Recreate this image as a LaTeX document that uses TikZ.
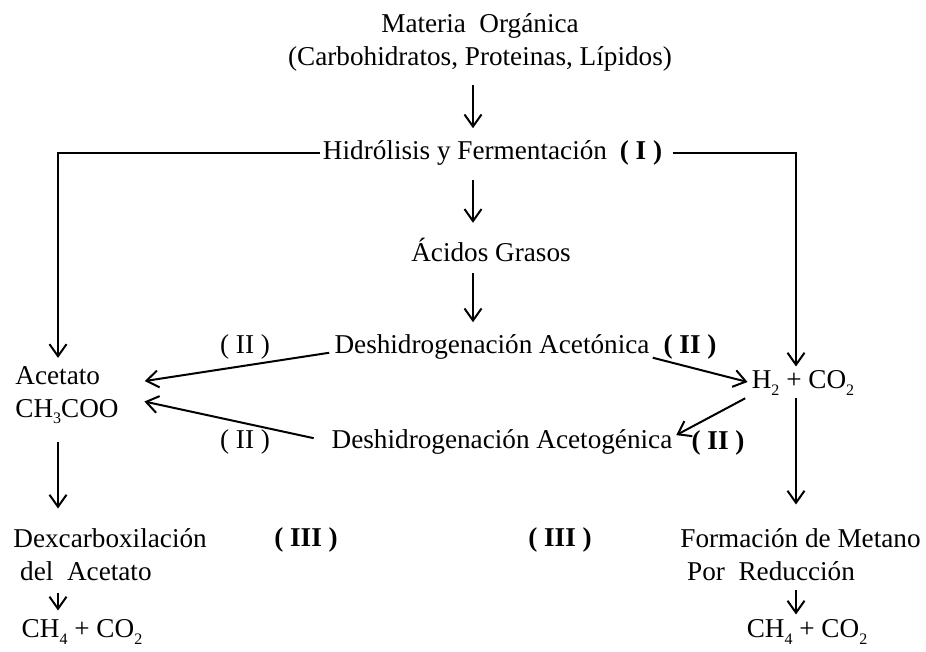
\documentclass[tikz,border=0pt]{standalone}
\usepackage{fontspec}
\setmainfont{Liberation Serif}
\usetikzlibrary{arrows.meta}
\newcommand{\indice}[1]{\raisebox{-0.5ex}{\fontsize{8}{8}\selectfont #1}}
\begin{document}
\begin{tikzpicture}[x=0.5pt,y=-0.5pt,
    every node/.style={font=\fontsize{13.6}{16.5}\selectfont, inner sep=0pt},
    etapa/.style={font=\fontsize{13.6}{16.5}\selectfont\bfseries},
    flecha/.style={-{Straight Barb[length=6pt,width=8.5pt]}, line width=1pt}]
  \useasboundingbox (0,0) rectangle (926,652);
  % columnas de las flechas verticales
  \coordinate (eje) at (473,0);
  \coordinate (colizq) at (58,0);
  \coordinate (colder) at (796,0);
  % textos
  \node (materia) [align=center] at (480,42) {Materia\ \ Orgánica\\(Carbohidratos, Proteinas, Lípidos)};
  \node (hidro) at (465,153) {Hidrólisis y Fermentación};
  \node (etapa1) [etapa] at (641,153) {( I )};
  \node (acidos) at (491,250) {Ácidos Grasos};
  \node (acetonica) at (492,347) {Deshidrogenación Acetónica};
  \node (acetogenica) at (502,442) {Deshidrogenación Acetogénica};
  \node (etapa2a) at (245,347) {( II )};
  \node (etapa2b) [etapa] at (690,347) {( II )};
  \node (etapa2c) at (245,442) {( II )};
  \node (etapa2d) [etapa] at (718,443) {( II )};
  \node (acetato) [align=left, anchor=west] at (15,395) {Acetato\\CH\indice{3}COO};
  \node (hco) at (803,383) {H\indice{2} + CO\indice{2}};
  \node (dexc) [align=left, anchor=west] at (13,555) {Dexcarboxilación\\\ del\ \ Acetato};
  \node (etapa3a) [etapa] at (306,540) {( III )};
  \node (etapa3b) [etapa] at (560,540) {( III )};
  \node (metano) [align=left, anchor=west] at (680,555) {Formación de Metano\\\ Por\ \ Reducción};
  \node (ch4a) at (82,632) {CH\indice{4} + CO\indice{2}};
  \node (ch4b) at (807,632) {CH\indice{4} + CO\indice{2}};
  % flechas centrales
  \draw[flecha, shorten <=7pt, shorten >=6pt] (materia.south -| eje) -- (hidro.north -| eje);
  \draw[flecha, shorten <=7pt, shorten >=7.5pt] (hidro.south -| eje) -- (acidos.north -| eje);
  \draw[flecha, shorten <=5.5pt, shorten >=6pt] (acidos.south -| eje) -- (acetonica.north -| eje);
  % ramas laterales
  \draw[flecha, shorten <=1.5pt, shorten >=4pt] (hidro.west) -| (colizq |- acetato.north);
  \draw[flecha, shorten <=5pt, shorten >=2pt] (etapa1.east) -| (colder |- hco.north);
  % deshidrogenaciones
  \draw[flecha, shorten <=2.5pt, shorten >=13pt] ([yshift=-2.5pt]acetonica.west) -- ([yshift=5pt]acetato.east);
  \draw[flecha, shorten <=9pt, shorten >=13pt] (acetogenica.west) -- ([yshift=-0.5pt]acetato.east);
  \draw[flecha, shorten <=1.5pt, shorten >=2pt] ([yshift=-5pt]acetonica.east) -- (hco.west);
  \draw[flecha, shorten <=3.5pt, shorten >=2pt] ([yshift=-6pt]hco.west) -- ([yshift=2.5pt]acetogenica.east);
  % metanogenesis
  \draw[flecha, shorten <=9pt, shorten >=10pt] (acetato.south -| colizq) -- (dexc.north -| colizq);
  \draw[flecha, shorten <=6pt, shorten >=4.5pt] (dexc.south -| colizq) -- (ch4a.north -| colizq);
  \draw[flecha, shorten <=1pt, shorten >=12pt] (hco.south -| colder) -- (metano.north -| colder);
  \draw[flecha, shorten <=4.5pt, shorten >=2.5pt] (metano.south -| colder) -- (ch4b.north -| colder);
\end{tikzpicture}
\end{document}
